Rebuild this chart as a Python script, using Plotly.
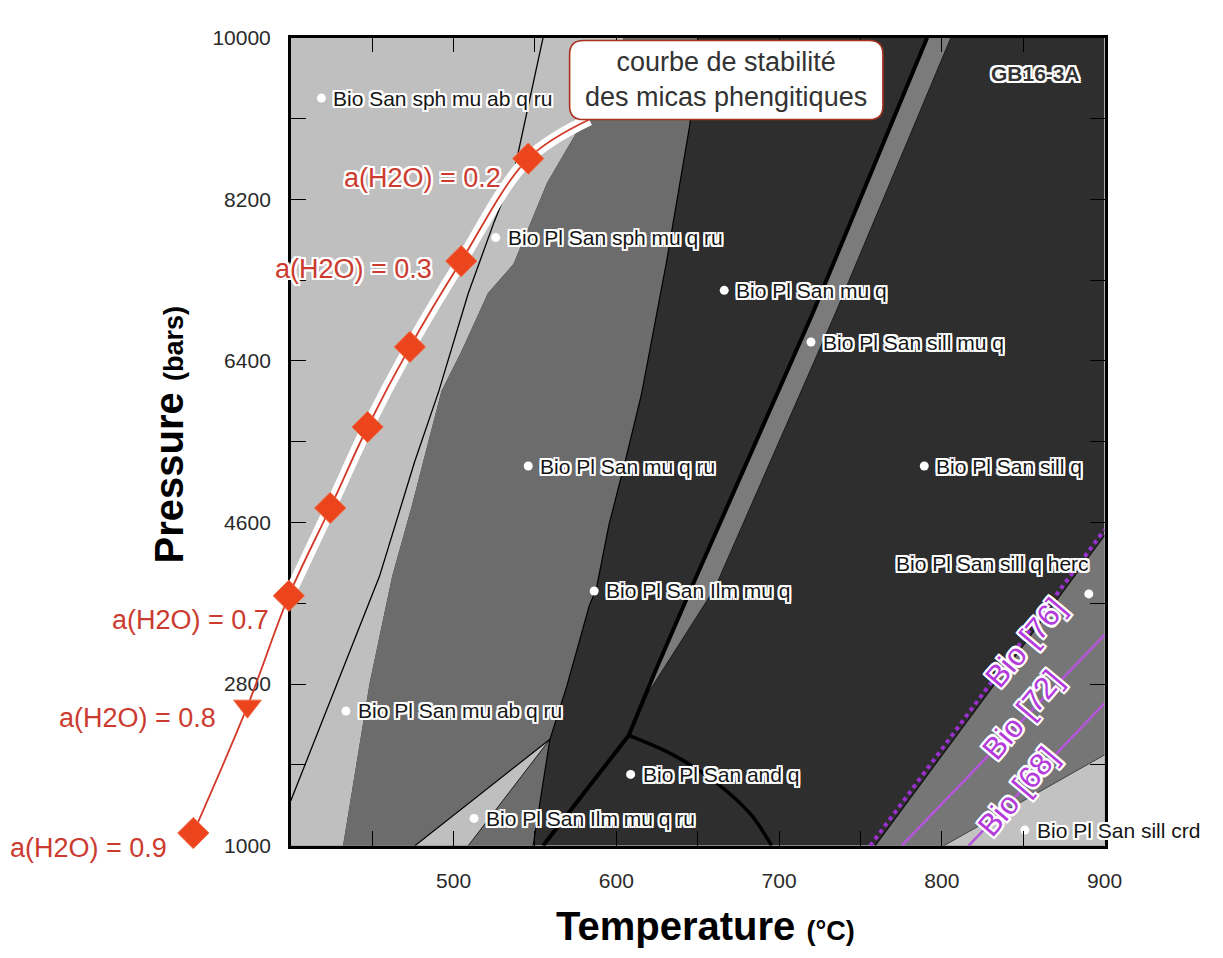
import plotly.graph_objects as go

# ---------------- figure geometry (screen pixels) ----------------
W, H, OFF = 1223, 958, 0
PLOT_L, PLOT_R, PLOT_T, PLOT_B = 287, 1113, 18, 846

# ---------------- data: temperature (°C) / pressure (bars) ----------------
T_RANGE = [400, 900]
P_RANGE = [1000, 10000]
x_tickvals = [500, 600, 700, 800, 900]
x_ticktext = ["500", "600", "700", "800", "900"]
y_tickvals = [1000, 2800, 4600, 6400, 8200, 10000]
y_ticktext = ["1000", "2800", "4600", "6400", "8200", "10000"]

# thin reaction line inside the light field
lineA_T = [400, 454.5, 476, 491, 509, 525, 537, 555]
lineA_P = [1500, 4000, 5270, 6065, 7150, 7950, 8490, 10000]

# boundary light field / medium field
bndB_T = [432.1, 448.4, 462.3, 474.5, 484.7, 492.6, 504.7, 521.1, 536.8, 557.4, 577.4, 585.2, 604.6]
bndB_P = [1000, 2805, 4000, 4794, 5522, 6065, 6500, 7152, 7478, 8381, 9000, 9109, 10000]

# boundary medium field / dark field (top -> lower vertex)
bndC_T = [650, 645.2, 630.6, 615.5, 605.8, 595.5, 587.7, 583.4, 569.5, 559.2, 548.9]
bndC_P = [10000, 9033, 7478, 6033, 5305, 4576, 3859, 3674, 2772, 2185, 1000]

# small light triangle (Bio Pl San Ilm mu q ru)
tri_T = [559.2, 476.3, 509.0]
tri_P = [2185, 1000, 1000]

# thick reaction line, top -> triple point, then to bottom
thickE_T = [791.0, 720.8, 645.8, 624.0, 607.6, 555.0]
thickE_P = [10000, 6935, 3859, 2946, 2228, 1000]
# right edge of the grey stripe
stripe_T = [805.6, 734.7, 660.3, 615.5]
stripe_P = [10000, 6935, 3859, 2587]
# andalusite curve from triple point
curveG_T = [607.6, 633.7, 660.3, 682.1, 695.4]
curveG_P = [2228, 2022, 1717, 1359, 1000]

# high-T corner: biotite isopleths and fields
bandEdge_T = [759.0, 900]
bandEdge_P = [1000, 4457]
bio76_T = [756.0, 900]
bio76_P = [1000, 4520]
bio72_T = [775.3, 900]
bio72_P = [1000, 3348]
bio68_T = [816.5, 900]
bio68_P = [1000, 2587]
crd_T = [801.3, 900]
crd_P = [1000, 2011]

# phengite stability curve, a(H2O) = 0.9 ... 0.2
aw_values = [0.9, 0.8, 0.7, 0.6, 0.5, 0.4, 0.3, 0.2]
aw_T = [340.1, 373.4, 398.8, 424.2, 447.2, 473.2, 504.7, 545.9]
aw_P = [1141, 2554, 3783, 4761, 5663, 6555, 7511, 8652]
curve_end_T, curve_end_P = 583.4, 9087
aw_labels = ["a(H2O) = 0.9", "a(H2O) = 0.8", "a(H2O) = 0.7", "a(H2O) = 0.3", "a(H2O) = 0.2"]
aw_label_T = [324.9, 355.2, 387.9, 487.8, 530.1]
aw_label_P = [978, 2424, 3511, 7424, 8435]

# assemblage labels
phase_names = ["Bio San sph mu ab q ru", "Bio Pl San sph mu q ru", "Bio Pl San mu q",
               "Bio Pl San sill mu q", "Bio Pl San mu q ru", "Bio Pl San sill q",
               "Bio Pl San Ilm mu q", "Bio Pl San sill q herc", "Bio Pl San mu ab q ru",
               "Bio Pl San and q", "Bio Pl San Ilm mu q ru", "Bio Pl San sill crd"]
phase_T = [418.8, 525.9, 666.3, 719.6, 545.9, 789.2, 586.4, 890.3, 433.9, 608.8, 512.6, 851.0]
phase_P = [9326, 7772, 7185, 6609, 5228, 5228, 3837, 3804, 2500, 1794, 1304, 1174]

bio_labels = ["Bio [76]", "Bio [72]", "Bio [68]"]
bio_label_T = [851.6, 849.8, 846.7]
bio_label_P = [3261, 2457, 1609]

# ---------------- helpers ----------------
def X(xs):
    return (xs - OFF) / W

def Y(ys):
    return 1 - (ys - OFF) / H

sx = (T_RANGE[1] - T_RANGE[0]) / (PLOT_R - PLOT_L)
sy = (P_RANGE[1] - P_RANGE[0]) / (PLOT_B - PLOT_T)
x2_range = [T_RANGE[0] + (OFF - PLOT_L) * sx, T_RANGE[0] + (OFF + W - PLOT_L) * sx]
y2_range = [P_RANGE[0] + (PLOT_B - (OFF + H)) * sy, P_RANGE[0] + (PLOT_B - OFF) * sy]

LIGHT, MEDIUM, DARK = "#bfbfbf", "#6c6c6c", "#2e2e2e"
HALO = ("-2px -2px 0 #fff, 2px -2px 0 #fff, -2px 2px 0 #fff, 2px 2px 0 #fff, "
        "0 2px 0 #fff, 2px 0 0 #fff, 0 -2px 0 #fff, -2px 0 0 #fff")
FONT = "Liberation Sans, Arial, sans-serif"

fig = go.Figure()

def poly(xs, ys, color):
    fig.add_trace(go.Scatter(x=xs, y=ys, fill="toself", fillcolor=color, mode="lines",
                             line=dict(width=0), hoverinfo="skip", showlegend=False))

def line(xs, ys, color="black", width=1.3, dash=None, shape="linear", xa="x", ya="y"):
    fig.add_trace(go.Scatter(x=xs, y=ys, mode="lines", xaxis=xa, yaxis=ya,
                             line=dict(color=color, width=width, dash=dash, shape=shape),
                             hoverinfo="skip", showlegend=False))

# dark background field
poly([T_RANGE[0], T_RANGE[1], T_RANGE[1], T_RANGE[0]],
     [P_RANGE[0], P_RANGE[0], P_RANGE[1], P_RANGE[1]], DARK)
# light field (left of B)
poly([T_RANGE[0]] + bndB_T + [T_RANGE[0]], [P_RANGE[0]] + bndB_P + [P_RANGE[1]], LIGHT)
# medium field (between B and C)
poly(bndB_T + bndC_T, bndB_P + bndC_P, MEDIUM)
# light triangle
poly(tri_T, tri_P, LIGHT)
# grey stripe along thick line
poly(thickE_T[:4] + stripe_T[::-1], thickE_P[:4] + stripe_P[::-1], "#7b7b7b")
# high-T band and corner
poly(bandEdge_T + [crd_T[1], crd_T[0]], bandEdge_P + [crd_P[1], crd_P[0]], "#767676")
poly(crd_T + [T_RANGE[1]], crd_P + [P_RANGE[0]], "#c2c2c2")

# boundary lines
line(lineA_T, lineA_P, width=1.3)
line(bndC_T, bndC_P, width=1.2)
line([tri_T[0], tri_T[1]], [tri_P[0], tri_P[1]], width=1.2)
line([tri_T[0], tri_T[2]], [tri_P[0], tri_P[2]], width=0.8)
line(stripe_T, stripe_P, color="#1a1a1a", width=1.0)
line(thickE_T, thickE_P, width=4)
line(curveG_T, curveG_P, width=3.5, shape="spline")
line(bandEdge_T, bandEdge_P, color="#111", width=1.2)
line(crd_T, crd_P, color="#333", width=0.8)
line(bio76_T, bio76_P, color="#9b30d0", width=4, dash="dot")
line(bio72_T, bio72_P, color="#b555dc", width=2.5)
line(bio68_T, bio68_P, color="#b555dc", width=2.5)

# assemblage points
fig.add_trace(go.Scatter(x=phase_T, y=phase_P, mode="markers",
                         marker=dict(color="white", size=9, line=dict(width=0)),
                         hoverinfo="skip", showlegend=False))

# phengite stability curve on the full-page overlay axes (not clipped)
in_T = aw_T[2:] + [curve_end_T]
in_P = aw_P[2:] + [curve_end_P]
line(in_T, in_P, color="white", width=12, shape="spline", xa="x2", ya="y2")
line(aw_T + [curve_end_T], aw_P + [curve_end_P], color="#d23a2a", width=1.8,
     shape="spline", xa="x2", ya="y2")
symbols = ["diamond" if v != 0.8 else "triangle-down" for v in aw_values]
fig.add_trace(go.Scatter(x=aw_T, y=aw_P, mode="markers", xaxis="x2", yaxis="y2",
                         marker=dict(symbol=symbols, size=24, color="#ec441c",
                                     line=dict(color="#f26a45", width=1)),
                         hoverinfo="skip", showlegend=False))

annotations = []
# assemblage labels
for t, p, name in zip(phase_T, phase_P, phase_names):
    if name == "Bio Pl San sill q herc":
        annotations.append(dict(x=t, y=p, xref="x", yref="y", text=name, showarrow=False,
                                xanchor="right", yanchor="middle", xshift=2, yshift=30,
                                font=dict(family=FONT, size=21, color="#151515", shadow=HALO)))
    else:
        annotations.append(dict(x=t, y=p, xref="x", yref="y", text=name, showarrow=False,
                                xanchor="left", yanchor="middle", xshift=10,
                                font=dict(family=FONT, size=21, color="#151515", shadow=HALO)))
# biotite isopleth labels
for t, p, name in zip(bio_label_T, bio_label_P, bio_labels):
    annotations.append(dict(x=t, y=p, xref="x", yref="y", text=name, showarrow=False,
                            textangle=-50, xanchor="center", yanchor="middle",
                            font=dict(family=FONT, size=31, color="#b43adc", shadow=HALO)))
# a(H2O) labels
for t, p, name in zip(aw_label_T, aw_label_P, aw_labels):
    annotations.append(dict(x=t, y=p, xref="x2", yref="y2", text=name, showarrow=False,
                            xanchor="right", yanchor="middle",
                            font=dict(family=FONT, size=27, color="#cc3b30", shadow=HALO)))
# box text
annotations.append(dict(x=X(729), y=Y(61), xref="paper", yref="paper",
                        text="courbe de stabilité<br>des micas phengitiques", showarrow=False,
                        xanchor="center", yanchor="middle",
                        font=dict(family=FONT, size=27, color="#333333")))
# sample name
annotations.append(dict(x=X(1043), y=Y(55), xref="paper", yref="paper", text="<b>GB16-3A</b>",
                        showarrow=False, xanchor="center", yanchor="middle",
                        font=dict(family=FONT, size=21, color="#333333", shadow=HALO)))
# axis titles
annotations.append(dict(x=X(708), y=Y(928), xref="paper", yref="paper",
                        text="<b>Temperature</b> <b><span style='font-size:27px'>(°C)</span></b>",
                        showarrow=False, xanchor="center", yanchor="middle",
                        font=dict(family=FONT, size=40, color="black")))
annotations.append(dict(x=X(163), y=Y(425), xref="paper", yref="paper",
                        text="<b>Pressure</b> <b><span style='font-size:27px'>(bars)</span></b>",
                        showarrow=False, xanchor="center", yanchor="middle", textangle=-90,
                        font=dict(family=FONT, size=40, color="black")))

# rounded legend box
bx0, bx1, by0, by1, r = 570, 888, 21, 102, 14
box_path = (f"M {X(bx0+r)},{Y(by0)} L {X(bx1-r)},{Y(by0)} Q {X(bx1)},{Y(by0)} {X(bx1)},{Y(by0+r)} "
            f"L {X(bx1)},{Y(by1-r)} Q {X(bx1)},{Y(by1)} {X(bx1-r)},{Y(by1)} "
            f"L {X(bx0+r)},{Y(by1)} Q {X(bx0)},{Y(by1)} {X(bx0)},{Y(by1-r)} "
            f"L {X(bx0)},{Y(by0+r)} Q {X(bx0)},{Y(by0)} {X(bx0+r)},{Y(by0)} Z")
shapes = [dict(type="path", xref="paper", yref="paper", path=box_path,
               fillcolor="white", line=dict(color="#a8321f", width=1.6), layer="above")]

axis_common = dict(showgrid=False, zeroline=False, showline=True, linecolor="black",
                   linewidth=2.5, mirror="ticks", ticks="inside", ticklen=15,
                   tickwidth=1.4, tickcolor="black", ticklabeloverflow="allow",
                   tickfont=dict(family=FONT, size=21, color="#2a2a2a"))

fig.update_layout(
    width=W, height=H, margin=dict(l=0, r=0, t=0, b=0),
    paper_bgcolor="white", plot_bgcolor="rgba(0,0,0,0)", showlegend=False,
    xaxis=dict(domain=[X(PLOT_L), X(PLOT_R)], range=T_RANGE, tickvals=x_tickvals,
               ticktext=x_ticktext, ticklabelstandoff=14,
               minor=dict(dtick=50, tick0=400, ticks="inside", ticklen=15, tickwidth=1.4,
                          tickcolor="black"),
               anchor="y", **axis_common),
    yaxis=dict(domain=[Y(PLOT_B), Y(PLOT_T)], range=P_RANGE, tickvals=y_tickvals,
               ticktext=y_ticktext, ticklabelstandoff=13,
               minor=dict(dtick=900, tick0=1000, ticks="inside", ticklen=15, tickwidth=1.4,
                          tickcolor="black"),
               anchor="x", **axis_common),
    xaxis2=dict(domain=[0, 1], range=x2_range, visible=False, anchor="y2"),
    yaxis2=dict(domain=[0, 1], range=y2_range, visible=False, anchor="x2"),
    annotations=annotations, shapes=shapes,
)

fig.write_html("out.html")
